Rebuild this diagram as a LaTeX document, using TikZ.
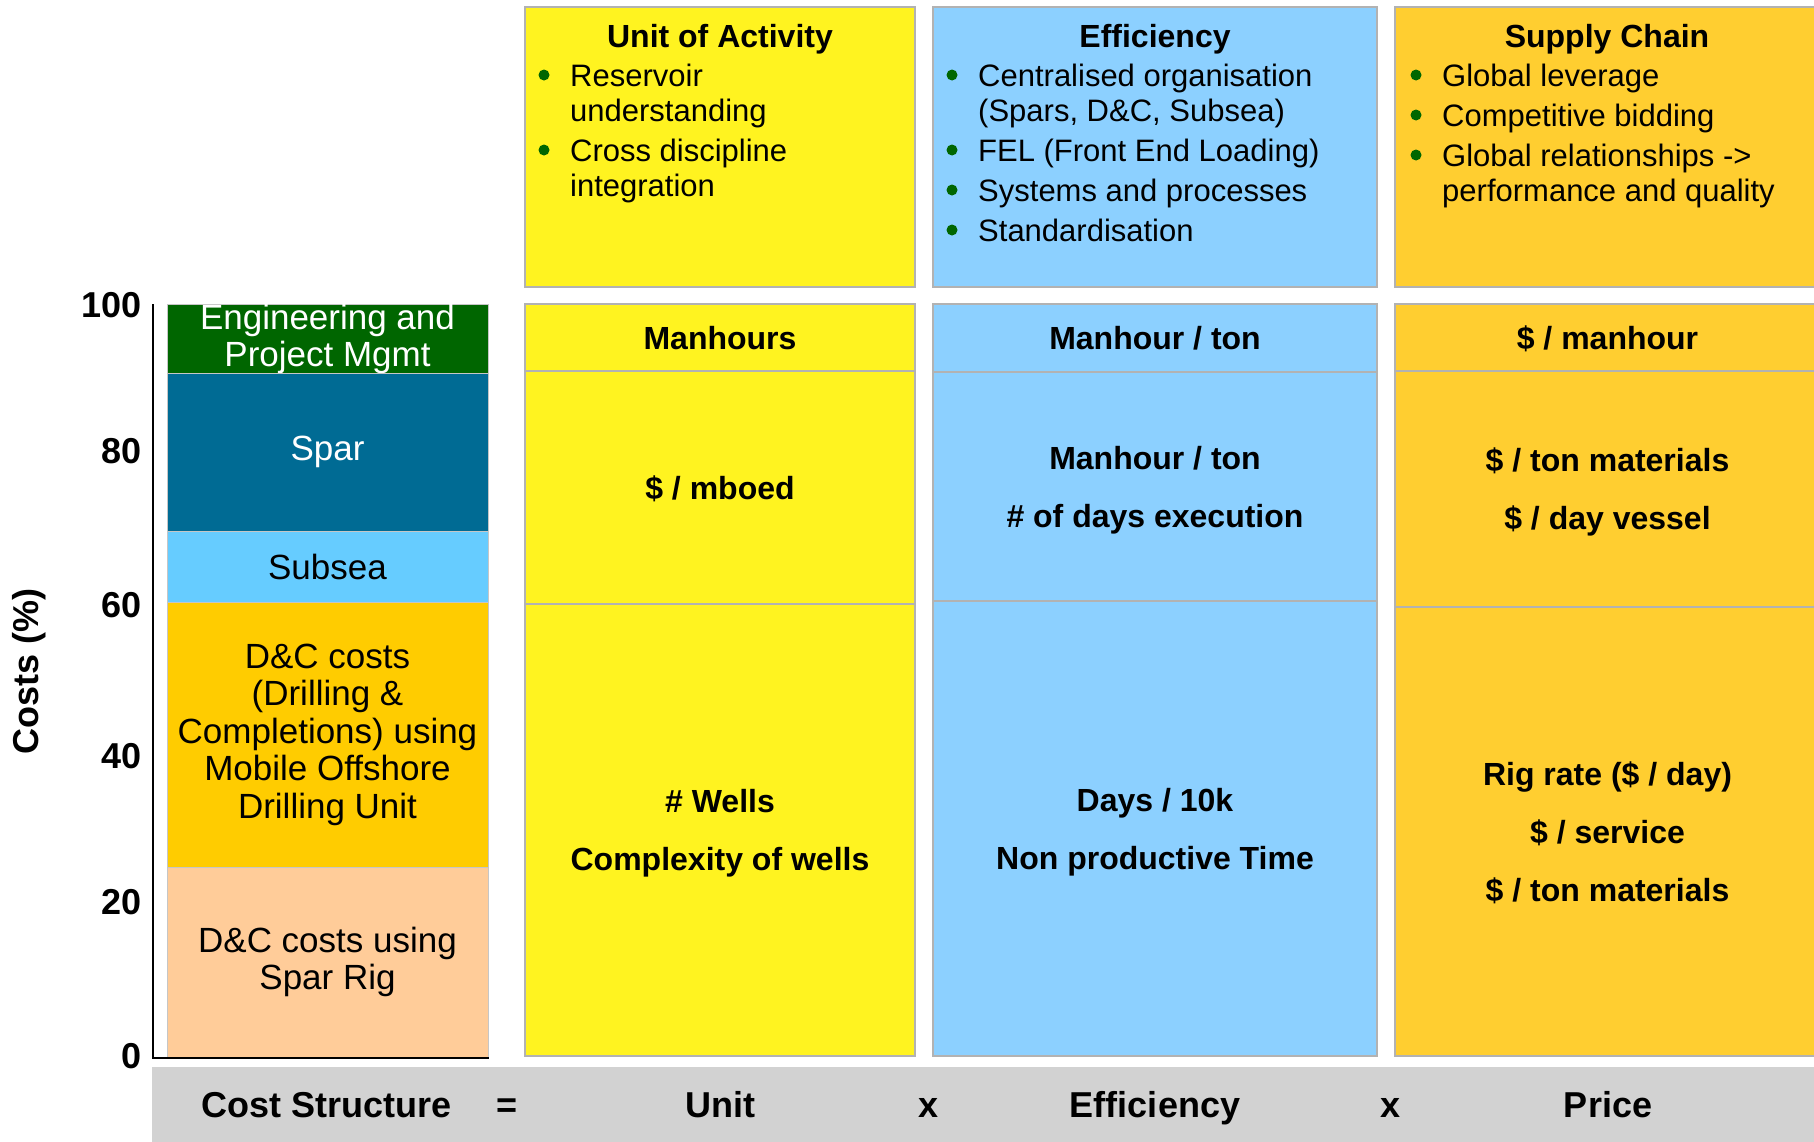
\documentclass[tikz,border=0pt]{standalone}
\usepackage{fontspec}
\setmainfont{Liberation Sans}
\usetikzlibrary{positioning}

\definecolor{unityellow}{RGB}{255,243,32}
\definecolor{effblue}{RGB}{140,208,255}
\definecolor{supgold}{RGB}{255,206,48}
\definecolor{boxline}{RGB}{178,178,178}
\definecolor{bandgray}{RGB}{210,210,210}
\definecolor{enggreen}{RGB}{0,102,0}
\definecolor{sparblue}{RGB}{0,107,148}
\definecolor{subseablue}{RGB}{102,204,255}
\definecolor{dcgold}{RGB}{255,204,0}
\definecolor{rigpeach}{RGB}{255,204,153}
\definecolor{bulgreen}{RGB}{0,102,0}

\begin{document}
\begin{tikzpicture}[x=1pt,y=-1pt,
            box/.style={draw=boxline,line width=2pt,inner sep=0pt,outer sep=0pt,align=center},
            ubox/.style={box,fill=unityellow,minimum width=390pt},
            ebox/.style={box,fill=effblue,minimum width=444pt},
            sbox/.style={box,fill=supgold,minimum width=425pt},
            title/.style={font=\fontsize{32}{38}\selectfont\bfseries,anchor=base},
            big/.style={font=\fontsize{32}{58}\selectfont\bfseries,text depth=0pt},
            bul/.style={font=\fontsize{31}{35}\selectfont,anchor=north west,align=left,inner sep=0pt},
            dot/.style={fill=bulgreen},
            seg/.style={draw=gray!45,line width=1pt,minimum width=321pt,inner sep=0pt,outer sep=0pt,
                        anchor=north west,align=center,font=\fontsize{35}{37.5}\selectfont},
            tick/.style={font=\fontsize{36}{40}\selectfont\bfseries,anchor=east,inner sep=0pt},
            eqn/.style={font=\fontsize{36}{40}\selectfont\bfseries,anchor=base}
          ]
          \useasboundingbox (0,0) rectangle (1814,1141);

          %unit column
          \node[ubox,minimum height=280pt,anchor=north west] (u0) at (525,7) {};
          \node[ubox,big,minimum height=67pt,anchor=north west] (u1) at (525,304) {Manhours};
          \node[ubox,big,minimum height=233pt,below=0pt of u1] (u2) {\$ / mboed};
          \node[ubox,big,minimum height=452pt,below=0pt of u2] (u3) {\# Wells\\Complexity of wells};

          %efficiency column
          \node[ebox,minimum height=280pt,anchor=north west] (e0) at (933,7) {};
          \node[ebox,big,minimum height=68pt,anchor=north west] (e1) at (933,304) {Manhour / ton};
          \node[ebox,big,minimum height=229pt,below=0pt of e1] (e2) {Manhour / ton\\\# of days execution};
          \node[ebox,big,minimum height=455pt,below=0pt of e2] (e3) {Days / 10k\\Non productive Time};

          %supply chain column
          \node[sbox,minimum height=280pt,anchor=north west] (s0) at (1395,7) {};
          \node[sbox,big,minimum height=67pt,anchor=north west] (s1) at (1395,304) {\$ / manhour};
          \node[sbox,big,minimum height=236pt,below=0pt of s1] (s2) {\$ / ton materials\\\$ / day vessel};
          \node[sbox,big,minimum height=449pt,below=0pt of s2] (s3) {Rig rate (\$ / day)\\\$ / service\\\$ / ton materials};

          %titles
          \node[title] (ut) at (720,47) {Unit of Activity};
          \node[title] (et) at (1155,47) {Efficiency};
          \node[title] (st) at (1607,47) {Supply Chain};

          %bullets
          \node[bul] (ub1) at (570,61.5) {\strut Reservoir\\understanding};
          \node[bul] (ub2) at (570,136.5) {\strut Cross discipline\\integration};
          \node[bul] (eb1) at (978,61.5) {\strut Centralised organisation\\(Spars, D\&C, Subsea)};
          \node[bul] (eb2) at (978,136.5) {\strut FEL (Front End Loading)};
          \node[bul] (eb3) at (978,176.5) {\strut Systems and processes};
          \node[bul] (eb4) at (978,216.5) {\strut Standardisation};
          \node[bul] (sb1) at (1442,61.5) {\strut Global leverage};
          \node[bul] (sb2) at (1442,101.5) {\strut Competitive bidding};
          \node[bul] (sb3) at (1442,141.5) {\strut Global relationships ->\\performance and quality};
          \foreach \b in {ub1,ub2,eb1,eb2,eb3,eb4,sb1,sb2,sb3}
            \fill[dot] ([xshift=-26pt,yshift=-13.5pt]\b.north west) circle (5.5pt);

          %stacked bar
          \node[seg,fill=enggreen,text=white,minimum height=69pt] (b5) at (167,304) {Engineering and\\Project Mgmt};
          \node[seg,fill=sparblue,text=white,minimum height=158pt] (b4) at (167,373) {Spar};
          \node[seg,fill=subseablue,minimum height=71pt] (b3) at (167,531) {Subsea};
          \node[seg,fill=dcgold,minimum height=265pt] (b2) at (167,602) {D\&C costs\\(Drilling \&\\Completions) using\\Mobile Offshore\\Drilling Unit};
          \node[seg,fill=rigpeach,minimum height=190pt] (b1) at (167,867) {D\&C costs using\\Spar Rig};

          %axis
          \coordinate (ytop) at (153,304);
          \coordinate (o) at (153,1058);
          \coordinate (xend) at (489,1058);
          \draw[line width=2pt] (ytop) -- (o) -- (xend);
          \foreach \v/\y in {0/1056,20/902,40/756,60/605,80/451,100/305}
            \node[tick] (t\v) at (142,\y) {\v};
          \node[font=\fontsize{36}{40}\selectfont\bfseries,rotate=90] (ylab) at (29,671) {Costs (\%)};

          %equation band
          \fill[bandgray] (152,1067) rectangle (1820,1145);
          \node[eqn] (cs) at (327,1117) {Cost Structure};
          \node[eqn] (eq) at (507,1117) {=};
          \node[eqn] (un) at (720,1117) {Unit};
          \node[eqn] (x1) at (928,1117) {x};
          \node[eqn] (ef) at (1155,1117) {Efficiency};
          \node[eqn] (x2) at (1390,1117) {x};
          \node[eqn] (pr) at (1608,1117) {Price};

      \end{tikzpicture}
\end{document}
